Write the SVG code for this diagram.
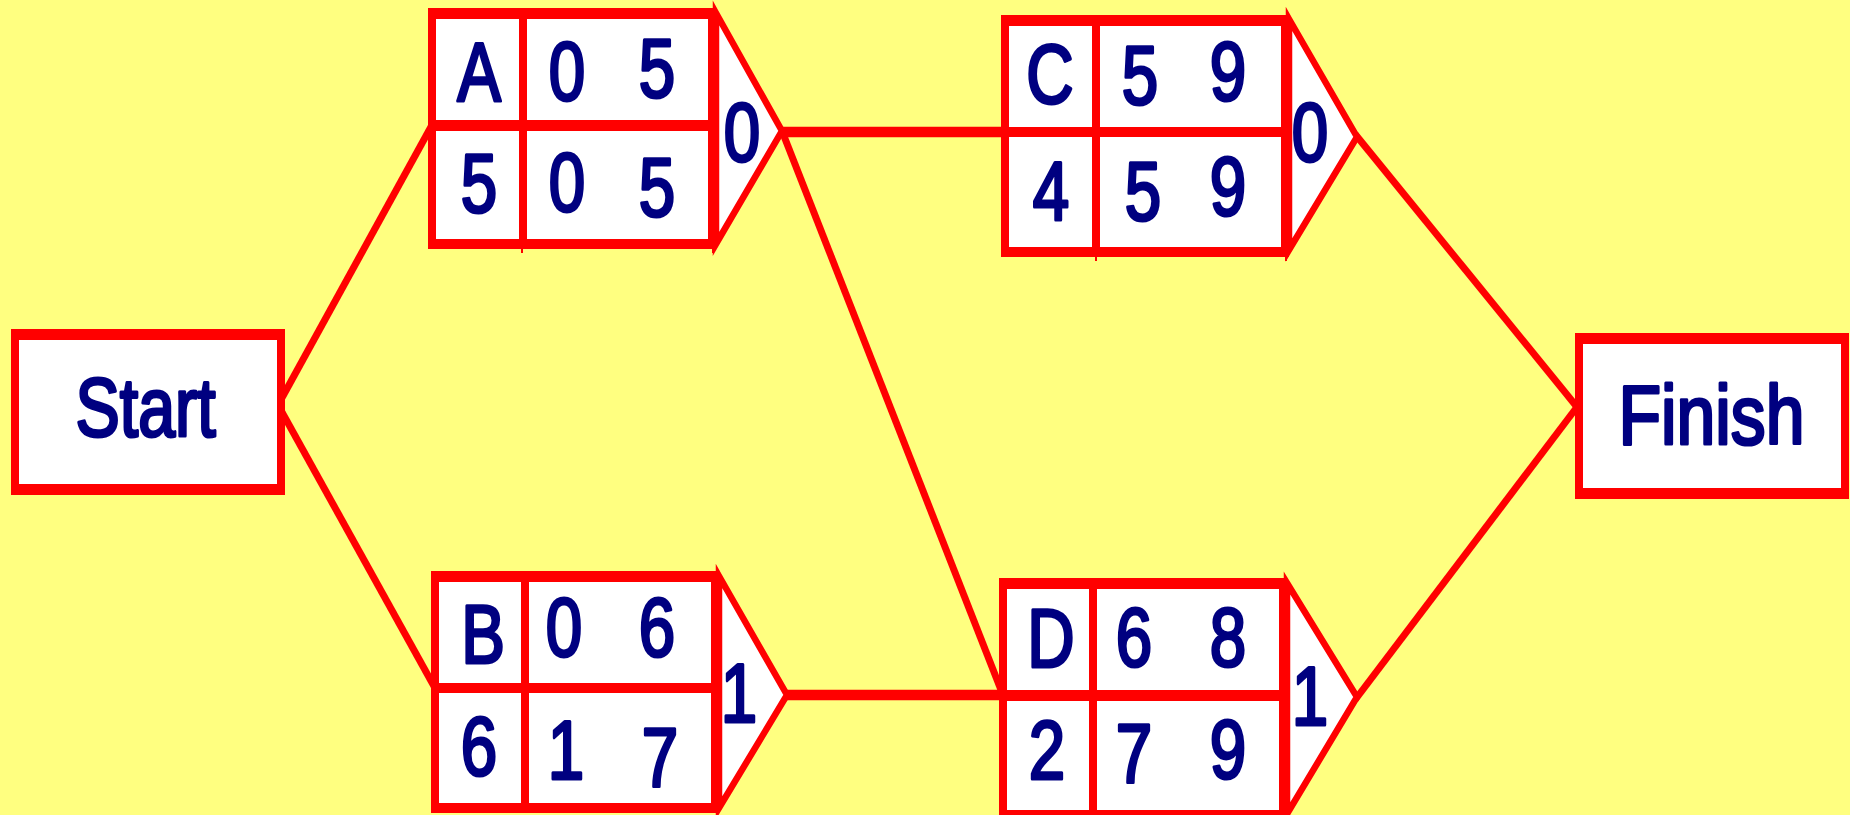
<svg xmlns="http://www.w3.org/2000/svg" width="1850" height="815" viewBox="0 0 1850 815">
  <style>
    .bg { fill: #FFFF80; }
    .frame { fill: #FF0000; }
    .cell { fill: #FFFFFF; }
    .bar { fill: #FF0000; }
    .tri { fill: #FFFFFF; stroke: #FF0000; stroke-width: 6.5; stroke-linejoin: miter; }
    .conn { stroke: #FF0000; stroke-width: 7; fill: none; }
    .hconn { stroke: #FF0000; stroke-width: 10.5; fill: none; }
    .tick { stroke: #FF0000; stroke-width: 2; }
    .t { font-family: "Liberation Sans", Arial, sans-serif; font-weight: normal; font-size: 84px; fill: #000080; text-anchor: middle; stroke: #000080; stroke-width: 3.2; stroke-linejoin: round; }
  </style>
  <rect class="bg" x="0" y="0" width="1850" height="815"/>

  <g id="connectors">
    <line class="conn" x1="278" y1="405" x2="432" y2="125"/>
    <line class="conn" x1="278" y1="405" x2="435" y2="688"/>
    <line class="hconn" x1="780" y1="132" x2="1003" y2="132"/>
    <line class="conn" x1="782" y1="131" x2="1003" y2="695"/>
    <line class="hconn" x1="785" y1="695" x2="1001" y2="695"/>
    <line class="conn" x1="1355" y1="134" x2="1577" y2="407"/>
    <line class="conn" x1="1355" y1="700" x2="1577" y2="407"/>
  </g>

  <g id="node-start">
    <rect class="frame" x="11" y="329" width="274" height="166"/>
    <rect class="cell" x="19" y="340" width="258" height="144"/>
    <text class="t" transform="translate(145.5 436) scale(0.79 1)">Start</text>
  </g>

  <g id="node-finish">
    <rect class="frame" x="1575" y="333" width="274" height="166"/>
    <rect class="cell" x="1583" y="344" width="258" height="144"/>
    <text class="t" transform="translate(1711.5 444) scale(0.83 1)">Finish</text>
  </g>

  <g id="node-A">
    <polygon class="tri" points="716,13 782,131 716,244"/>
    <rect class="frame" x="428" y="8" width="288" height="241"/>
    <rect class="cell" x="436" y="19" width="272" height="220"/>
    <rect class="bar" x="436" y="120" width="272" height="11"/>
    <rect class="bar" x="519" y="19" width="8" height="220"/>
    <line class="tick" x1="522" y1="249" x2="522" y2="253"/>
    <line class="tick" x1="713" y1="249" x2="713" y2="253"/>
    <text class="t" transform="translate(479 101) scale(0.78 1)">A</text>
    <text class="t" transform="translate(567 100) scale(0.78 1)">0</text>
    <text class="t" transform="translate(657 97) scale(0.78 1)">5</text>
    <text class="t" transform="translate(479 212) scale(0.78 1)">5</text>
    <text class="t" transform="translate(567 211) scale(0.78 1)">0</text>
    <text class="t" transform="translate(657 216) scale(0.78 1)">5</text>
    <text class="t" transform="translate(742 161) scale(0.78 1)">0</text>
  </g>

  <g id="node-B">
    <polygon class="tri" points="719,576 787,695 719,808"/>
    <rect class="frame" x="431" y="571" width="288" height="242"/>
    <rect class="cell" x="439" y="582" width="272" height="221"/>
    <rect class="bar" x="439" y="683" width="272" height="10"/>
    <rect class="bar" x="521" y="582" width="8" height="221"/>
    <text class="t" transform="translate(483 663) scale(0.78 1)">B</text>
    <text class="t" transform="translate(564 656) scale(0.78 1)">0</text>
    <text class="t" transform="translate(657 656) scale(0.78 1)">6</text>
    <text class="t" transform="translate(479 775) scale(0.78 1)">6</text>
    <text class="t" transform="translate(566 779) scale(0.78 1)">1</text>
    <text class="t" transform="translate(660 786) scale(0.78 1)">7</text>
    <text class="t" transform="translate(739 722) scale(0.78 1)">1</text>
  </g>

  <g id="node-C">
    <polygon class="tri" points="1289,19 1357,137 1289,250"/>
    <rect class="frame" x="1001" y="15" width="288" height="242"/>
    <rect class="cell" x="1009" y="26" width="272" height="221"/>
    <rect class="bar" x="1009" y="127" width="272" height="10"/>
    <rect class="bar" x="1092" y="26" width="8" height="221"/>
    <line class="tick" x1="1096" y1="257" x2="1096" y2="261"/>
    <line class="tick" x1="1286" y1="257" x2="1286" y2="261"/>
    <text class="t" transform="translate(1050 103) scale(0.78 1)">C</text>
    <text class="t" transform="translate(1140 104) scale(0.78 1)">5</text>
    <text class="t" transform="translate(1228 100) scale(0.78 1)">9</text>
    <text class="t" transform="translate(1051 220) scale(0.78 1)">4</text>
    <text class="t" transform="translate(1143 220) scale(0.78 1)">5</text>
    <text class="t" transform="translate(1228 215) scale(0.78 1)">9</text>
    <text class="t" transform="translate(1310 161) scale(0.78 1)">0</text>
  </g>

  <g id="node-D">
    <polygon class="tri" points="1287,583 1357,697 1287,814"/>
    <rect class="frame" x="999" y="578" width="288" height="242"/>
    <rect class="cell" x="1007" y="589" width="272" height="221"/>
    <rect class="bar" x="1007" y="690" width="272" height="11"/>
    <rect class="bar" x="1089" y="589" width="8" height="221"/>
    <text class="t" transform="translate(1051 667) scale(0.78 1)">D</text>
    <text class="t" transform="translate(1134 666) scale(0.78 1)">6</text>
    <text class="t" transform="translate(1228 666) scale(0.78 1)">8</text>
    <text class="t" transform="translate(1047 779) scale(0.78 1)">2</text>
    <text class="t" transform="translate(1134 782) scale(0.78 1)">7</text>
    <text class="t" transform="translate(1228 778) scale(0.78 1)">9</text>
    <text class="t" transform="translate(1310 725) scale(0.78 1)">1</text>
  </g>
</svg>
